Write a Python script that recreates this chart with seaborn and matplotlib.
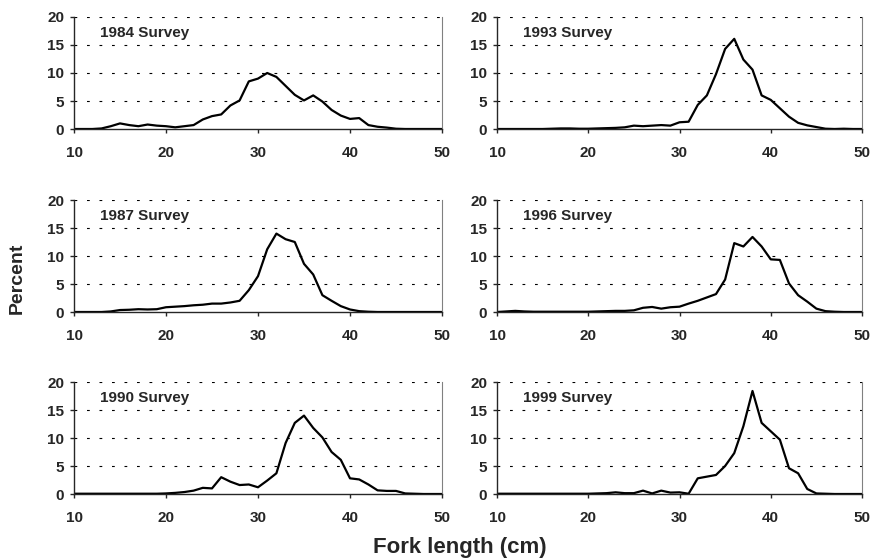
import matplotlib
matplotlib.use("Agg")
import matplotlib.pyplot as plt
import pandas as pd
import seaborn as sns

# fork length classes (cm)
lengths = list(range(10, 51))

# percent frequency per 1 cm class
pct_1984 = [0, 0, 0, 0.1, 0.5, 1.0, 0.7, 0.5, 0.8, 0.6, 0.5, 0.3, 0.5, 0.7, 1.7, 2.3,
            2.6, 4.2, 5.1, 8.5, 9.0, 10.0, 9.3, 7.7, 6.1, 5.1, 6.0, 4.9, 3.4, 2.4, 1.8,
            1.95, 0.7, 0.4, 0.25, 0.05, 0, 0, 0, 0, 0]
pct_1993 = [0, 0, 0, 0, 0, 0, 0.05, 0.1, 0.1, 0.05, 0.05, 0.1, 0.15, 0.2, 0.3, 0.6,
            0.5, 0.6, 0.7, 0.6, 1.2, 1.3, 4.3, 6.0, 9.8, 14.3, 16.1, 12.4, 10.6, 6.0,
            5.2, 3.7, 2.2, 1.1, 0.65, 0.35, 0.05, 0, 0.05, 0, 0]
pct_1987 = [0, 0, 0, 0, 0.1, 0.35, 0.4, 0.5, 0.45, 0.5, 0.85, 0.95, 1.05, 1.2, 1.3,
            1.5, 1.5, 1.7, 2.0, 3.9, 6.4, 11.2, 14.0, 13.0, 12.5, 8.6, 6.7, 3.0, 2.0,
            1.05, 0.45, 0.15, 0.05, 0, 0, 0, 0, 0, 0, 0, 0]
pct_1996 = [0, 0.1, 0.2, 0.1, 0.05, 0.05, 0.05, 0.05, 0.05, 0.05, 0.05, 0.1, 0.15,
            0.2, 0.2, 0.3, 0.75, 0.9, 0.6, 0.85, 0.95, 1.5, 2.0, 2.6, 3.2, 5.8, 12.3,
            11.7, 13.4, 11.7, 9.4, 9.3, 5.1, 3.0, 1.85, 0.6, 0.15, 0.05, 0, 0, 0]
pct_1990 = [0.05, 0.05, 0.05, 0.05, 0.05, 0.05, 0.05, 0.05, 0.05, 0.05, 0.1, 0.2,
            0.35, 0.6, 1.1, 1.0, 3.0, 2.2, 1.6, 1.7, 1.2, 2.4, 3.7, 9.1, 12.7, 14.0,
            11.8, 10.1, 7.5, 6.1, 2.8, 2.6, 1.7, 0.65, 0.55, 0.55, 0.1, 0.05, 0, 0, 0]
pct_1999 = [0.05, 0.05, 0.05, 0.05, 0.05, 0.05, 0.05, 0.05, 0.05, 0.05, 0.05, 0.1,
            0.15, 0.3, 0.15, 0.15, 0.6, 0.1, 0.6, 0.25, 0.3, 0.05, 2.8, 3.1, 3.4, 5.0,
            7.3, 12.1, 18.4, 12.7, 11.2, 9.7, 4.6, 3.7, 0.9, 0.1, 0.05, 0, 0, 0, 0]

surveys = ["1984", "1993", "1987", "1996", "1990", "1999"]
series = [pct_1984, pct_1993, pct_1987, pct_1996, pct_1990, pct_1999]

df = pd.concat(
    [pd.DataFrame({"length": lengths, "percent": s, "survey": yr})
     for yr, s in zip(surveys, series)],
    ignore_index=True,
)

sns.set_style("ticks")
plt.rcParams["font.family"] = ["Liberation Sans", "DejaVu Sans"]
plt.rcParams["font.weight"] = "bold"
plt.rcParams["lines.scale_dashes"] = False

fig = plt.figure(figsize=(8.73, 5.59), dpi=100)

W, H = 873, 559
col_x = [74, 497]
col_w = [368, 365]
row_top = [17, 200, 382]
ax_h = 112

for i, yr in enumerate(surveys):
    r, c = divmod(i, 2)
    x0 = col_x[c] / W
    y0 = 1 - (row_top[r] + ax_h) / H
    ax = fig.add_axes([x0, y0, col_w[c] / W, ax_h / H])
    sub = df[df["survey"] == yr]
    sns.lineplot(data=sub, x="length", y="percent", ax=ax, color="black",
                 linewidth=1.6, legend=False)
    ax.set_xlim(10, 50)
    ax.set_ylim(0, 20)
    ax.set_xticks([10, 20, 30, 40, 50])
    ax.set_yticks([0, 5, 10, 15, 20])
    for g in [5, 10, 15, 20]:
        ax.axhline(g, color="black", linewidth=0.8, linestyle=(0, (2, 7)), zorder=0)
    ax.spines["top"].set_visible(False)
    ax.spines["right"].set_color("#808080")
    ax.spines["right"].set_linewidth(0.8)
    ax.spines["left"].set_linewidth(1.0)
    ax.spines["bottom"].set_linewidth(1.0)
    ax.tick_params(axis="x", direction="out", length=3, width=1, pad=9,
                   labelsize=11)
    ax.tick_params(axis="y", direction="out", length=3, width=1, pad=4,
                   labelsize=11)
    for lab in ax.get_xticklabels() + ax.get_yticklabels():
        lab.set_fontweight("bold")
    ax.set_xlabel("")
    ax.set_ylabel("")
    ax.text(0.07, 0.86, f"{yr} Survey", transform=ax.transAxes,
            fontsize=11, fontweight="bold", va="center", ha="left")

fig.text(17 / W, 1 - 278 / H, "Percent", rotation=90, fontsize=14,
         fontweight="bold", ha="center", va="center")
fig.text(460 / W, 1 - 548 / H, "Fork length (cm)", fontsize=16,
         fontweight="bold", ha="center", va="center")

fig.savefig("out.png", dpi=100)
